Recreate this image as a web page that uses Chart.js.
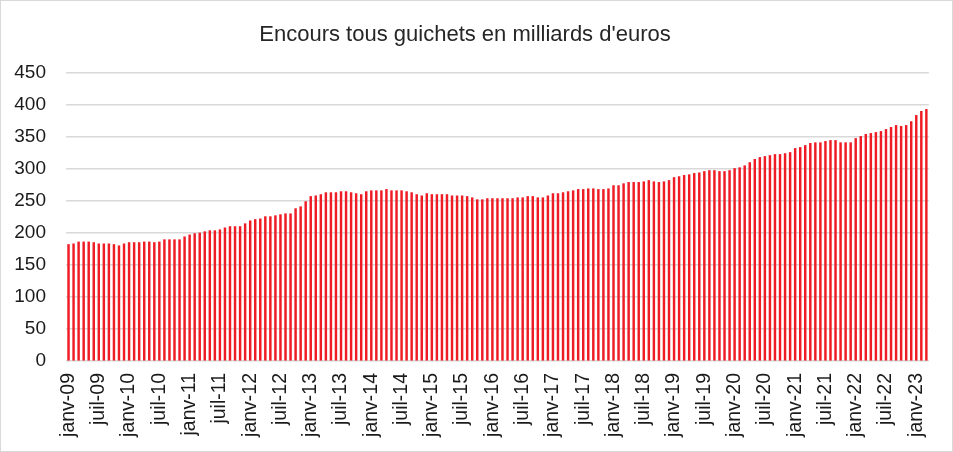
<!DOCTYPE html>
<html>
<head>
<meta charset="utf-8">
<script src="https://cdn.jsdelivr.net/npm/chart.js@4/dist/chart.umd.min.js"></script>
<style>
  html, body { margin: 0; padding: 0; background: #fff; }
  #wrap { width: 953px; height: 452px; box-sizing: border-box; border: 1px solid #d9d9d9; }
  canvas { display: block; }
</style>
</head>
<body>
<div id="wrap"><canvas id="myChart" width="951" height="450"></canvas></div>
<script>
  var monthNames = ["janv", "févr", "mars", "avr", "mai", "juin", "juil", "août", "sept", "oct", "nov", "déc"];
  var years = ["09", "10", "11", "12", "13", "14", "15", "16", "17", "18", "19", "20", "21", "22", "23"];

  // encours mensuels, janv-09 -> mars-23 (milliards d'euros)
  var encours = [
    182, 183, 186, 186, 186, 185, 183, 183, 183, 182, 180, 183,
    185, 185, 185, 186, 186, 185, 186, 189.5, 189.5, 189.5, 189.5, 194,
    197, 199, 200, 202, 203.6, 203.6, 205, 208, 210, 210, 210, 214.5,
    219, 221, 222, 225.5, 225.5, 227, 228.6, 230, 230, 238, 241, 249,
    257, 258, 260, 263, 263, 263, 264.6, 264.6, 263, 261.5, 260, 264.6,
    266, 266, 266, 268, 266, 266, 266, 264.6, 263, 260, 258, 261.5,
    260, 260, 260, 260, 258, 258, 258, 257, 255, 252, 252, 253.7,
    253.7, 253.7, 253.7, 253.7, 253.7, 255, 255, 257, 257, 255, 255, 258,
    261.5, 261.5, 263, 264.6, 266, 268, 268, 269, 269, 268, 268, 269,
    274, 274, 277, 279, 279, 279, 280, 282, 280, 279, 280, 282,
    286.6, 288, 290, 291, 293, 294, 296, 297.5, 297.5, 296, 296, 297.5,
    300.7, 302, 305, 310, 315, 318, 319.5, 321, 322.6, 322.6, 324, 325.7,
    332, 333.6, 336.7, 340, 341, 341, 343, 344.5, 344.5, 341, 341, 341,
    347.6, 350.8, 354, 355.5, 357, 358.6, 361.7, 365, 368, 366.6, 368, 374,
    383.7, 390, 393
  ];

  var yTicks = [0, 50, 100, 150, 200, 250, 300, 350, 400, 450];

  var labels = [];
  for (var i = 0; i < encours.length; i++) {
    labels.push(monthNames[i % 12] + "-" + years[Math.floor(i / 12)]);
  }

  new Chart("myChart", {
    type: "bar",
    data: {
      labels: labels,
      datasets: [{
        data: encours,
        backgroundColor: "#ee1c25",
        barThickness: 1.8
      }]
    },
    options: {
      responsive: false,
      animation: false,
      layout: { padding: { left: 0, right: 23, top: 0, bottom: 0 } },
      plugins: {
        legend: { display: false },
        tooltip: { enabled: false },
        title: {
          display: true,
          text: "Encours tous guichets en milliards d'euros",
          color: "#262626",
          font: { family: "Liberation Sans", size: 22, weight: "normal" },
          padding: { top: 21, bottom: 24.5 }
        }
      },
      scales: {
        x: {
          grid: { display: false, drawTicks: false },
          border: { display: false },
          afterFit: function (s) { s.height = 90; },
          ticks: {
            autoSkip: false,
            maxRotation: 90,
            minRotation: 90,
            padding: 12,
            color: "#1a1a1a",
            font: { family: "Liberation Sans", size: 19.5 },
            callback: function (v, idx) {
              return idx % 6 === 0 ? labels[idx] : null;
            }
          }
        },
        y: {
          min: 0,
          max: 450,
          afterFit: function (s) { s.width = 65; },
          afterBuildTicks: function (s) {
            s.ticks = yTicks.map(function (v) { return { value: v }; });
          },
          grid: { color: "#d9d9d9", lineWidth: 1.5, drawTicks: false },
          border: { display: false },
          ticks: {
            padding: 20,
            color: "#1a1a1a",
            font: { family: "Liberation Sans", size: 19 }
          }
        }
      }
    }
  });
</script>
</body>
</html>
